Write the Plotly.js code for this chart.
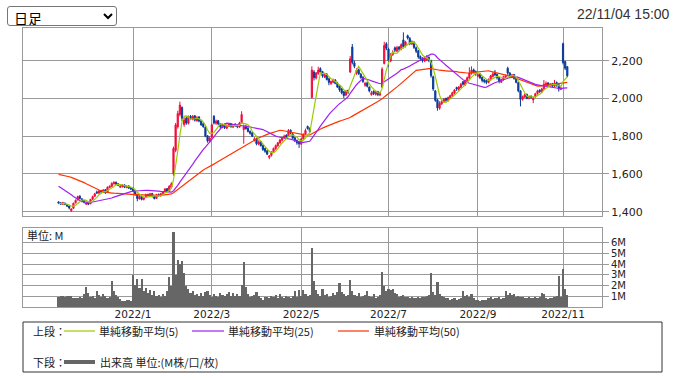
<!DOCTYPE html>
<html><head><meta charset="utf-8">
<script src="https://cdn.plot.ly/plotly-3.0.1.min.js"></script>
<style>
html,body{margin:0;padding:0;background:#fff;}
#wrap{position:relative;width:677px;height:378px;overflow:hidden;}
#chart{position:absolute;left:0;top:0;width:677px;height:378px;}
#period{position:absolute;left:7px;top:6px;width:110px;height:20px;font-size:14px;font-family:'Noto Sans CJK JP',sans-serif;color:#000;background:#fff;border:1px solid #767676;border-radius:3px;padding:0 2px;box-sizing:border-box;}
</style></head>
<body><div id="wrap"><div id="chart"></div><select id="period"><option>日足</option><option>週足</option><option>月足</option></select></div>
<script>
// ---------------- data ----------------
const firstDay = '2021-11-11';
const holidays = ['2021-11-23','2021-12-31','2022-01-03','2022-01-10','2022-02-11','2022-02-23','2022-03-21','2022-04-29','2022-05-03','2022-05-04','2022-05-05','2022-07-18','2022-08-11','2022-09-19','2022-09-23','2022-10-10','2022-11-03'];
const tickMonths = ['2022-01','2022-03','2022-05','2022-07','2022-09','2022-11'];
const tickLabels = ['2022/1','2022/3','2022/5','2022/7','2022/9','2022/11'];
const priceTicks = [1400,1600,1800,2000,2200];
const volTicks = [1,2,3,4,5,6];
const volTickLabels = ['1M','2M','3M','4M','5M','6M'];
const stamp = '22/11/04 15:00';

const openP = [
1452,1447,1440,1446,1437,1430,1405,1418,1447,1462,
1482,1468,1458,1440,1450,1442,1466,1482,1505,1498,
1512,1503,1516,1502,1528,1534,1548,1556,1548,1530,
1533,1542,1528,1536,1527,1525,1512,1492,1468,1482,
1465,1476,1492,1484,1496,1482,1470,1492,1484,1494,
1506,1522,1508,1530,1600,1725,1850,1915,1952,1862,
1895,1868,1906,1890,1908,1882,1902,1882,1866,1848,
1802,1772,1795,1905,1868,1882,1866,1846,1862,1842,
1852,1866,1848,1864,1858,1848,1868,1835,1852,1842,
1826,1818,1778,1788,1758,1772,1752,1735,1722,1688,
1698,1714,1734,1748,1764,1778,1792,1805,1798,1832,
1812,1792,1778,1768,1758,1786,1812,1852,1842,2005,
2140,2108,2132,2158,2142,2112,2128,2104,2078,2086,
2098,2082,2066,2050,2035,2018,2042,2140,2272,2188,
2135,2152,2128,2112,2070,2082,2060,2020,2038,2022,
2036,2018,2060,2185,2290,2262,2198,2232,2268,2250,
2272,2262,2310,2278,2332,2318,2288,2298,2268,2252,
2222,2212,2198,2205,2218,2198,2115,2040,1992,1948,
1972,1984,2000,1988,2002,2014,2028,2058,2046,2058,
2088,2072,2094,2108,2132,2152,2142,2118,2128,2112,
2098,2094,2084,2098,2116,2140,2128,2110,2086,2098,
2112,2160,2134,2112,2126,2106,2084,2040,1996,2008,
2022,2000,2012,1992,2008,2026,2044,2036,2050,2070,
2082,2068,2078,2064,2084,2072,2048,2290,2195,2168];

const highP = [
1456,1450,1452,1448,1440,1432,1418,1448,1465,1485,
1488,1472,1462,1452,1452,1468,1485,1500,1512,1515,
1516,1520,1520,1534,1540,1556,1562,1560,1552,1540,
1546,1545,1540,1540,1530,1528,1515,1495,1488,1486,
1480,1496,1495,1500,1500,1485,1495,1496,1500,1510,
1525,1526,1540,1556,1745,1870,1935,1983,1958,1900,
1905,1910,1912,1912,1912,1906,1906,1888,1870,1852,
1805,1800,1868,1912,1888,1886,1870,1866,1866,1862,
1870,1870,1865,1868,1862,1876,1932,1862,1860,1848,
1830,1822,1795,1792,1778,1775,1755,1740,1728,1700,
1720,1740,1756,1770,1786,1796,1808,1810,1838,1836,
1816,1798,1782,1772,1790,1815,1840,1856,1846,2170,
2150,2140,2168,2165,2146,2132,2135,2110,2095,2105,
2102,2088,2070,2055,2040,2045,2046,2225,2288,2200,
2160,2158,2135,2118,2088,2090,2064,2040,2042,2042,
2040,2036,2165,2300,2298,2268,2240,2255,2275,2278,
2278,2292,2350,2305,2338,2325,2308,2302,2275,2256,
2228,2218,2225,2230,2222,2205,2120,2045,1998,1985,
1995,2002,2004,2010,2020,2036,2050,2062,2066,2082,
2092,2100,2116,2165,2170,2158,2148,2132,2134,2115,
2102,2100,2106,2125,2138,2150,2132,2115,2105,2120,
2126,2168,2140,2130,2130,2110,2088,2045,2015,2026,
2025,2016,2016,2008,2030,2046,2048,2056,2098,2090,
2086,2082,2082,2098,2090,2078,2062,2295,2200,2172];

const lowP = [
1440,1436,1436,1435,1425,1412,1400,1415,1444,1460,
1465,1450,1444,1436,1435,1440,1462,1478,1494,1495,
1500,1500,1495,1500,1525,1530,1544,1540,1535,1526,
1528,1525,1524,1520,1515,1505,1485,1455,1465,1460,
1460,1472,1480,1480,1476,1465,1468,1480,1480,1490,
1502,1505,1505,1525,1590,1715,1840,1905,1880,1850,
1860,1862,1885,1884,1878,1876,1874,1855,1845,1795,
1766,1765,1790,1862,1860,1858,1840,1842,1838,1838,
1848,1845,1844,1850,1842,1845,1865,1760,1835,1820,
1808,1795,1772,1752,1752,1745,1722,1712,1700,1678,
1692,1710,1728,1745,1760,1772,1788,1790,1795,1810,
1786,1770,1755,1738,1755,1782,1808,1835,1818,2000,
2095,2100,2125,2135,2110,2108,2095,2070,2072,2080,
2075,2055,2035,2022,2002,2012,2025,2135,2180,2160,
2125,2125,2105,2082,2062,2058,2032,2015,2018,2015,
2012,2012,2055,2180,2255,2168,2192,2225,2245,2245,
2250,2255,2265,2270,2312,2282,2282,2262,2240,2210,
2200,2190,2192,2198,2192,2110,2040,1982,1935,1940,
1965,1978,1982,1984,1998,2008,2022,2040,2040,2055,
2068,2068,2088,2104,2126,2132,2120,2112,2102,2085,
2080,2075,2080,2095,2112,2118,2100,2080,2082,2095,
2108,2125,2110,2108,2100,2080,2032,1958,1988,2002,
1995,1995,1998,1975,2004,2020,2030,2030,2046,2062,
2064,2062,2058,2060,2062,2036,2044,2180,2150,2112];

const closeP = [
1445,1440,1448,1438,1430,1420,1415,1445,1460,1480,
1470,1455,1450,1445,1440,1465,1480,1495,1500,1510,
1505,1515,1500,1530,1535,1550,1555,1545,1540,1535,
1540,1530,1535,1525,1520,1510,1490,1470,1480,1465,
1475,1490,1485,1495,1480,1470,1490,1485,1495,1505,
1520,1510,1535,1548,1735,1860,1920,1965,1895,1885,
1870,1900,1895,1905,1885,1900,1880,1860,1850,1800,
1775,1790,1860,1870,1880,1865,1850,1860,1845,1855,
1865,1850,1860,1855,1850,1870,1915,1850,1840,1825,
1815,1800,1785,1760,1770,1750,1730,1720,1705,1695,
1715,1735,1750,1765,1780,1790,1800,1795,1830,1815,
1790,1775,1765,1760,1785,1810,1830,1840,1825,2150,
2110,2135,2150,2140,2120,2125,2100,2085,2090,2095,
2080,2060,2045,2030,2015,2040,2030,2210,2190,2170,
2150,2130,2110,2090,2080,2065,2040,2030,2025,2035,
2020,2030,2155,2280,2265,2200,2230,2245,2255,2270,
2260,2285,2275,2300,2320,2290,2300,2270,2250,2220,
2210,2200,2215,2215,2200,2120,2050,1990,1950,1975,
1985,1995,1990,2005,2015,2030,2045,2050,2060,2075,
2075,2095,2110,2135,2150,2140,2130,2125,2110,2095,
2090,2085,2100,2120,2130,2125,2110,2090,2100,2115,
2120,2135,2115,2125,2105,2085,2040,1995,2010,2020,
2000,2010,2005,2000,2025,2040,2035,2050,2075,2080,
2070,2075,2065,2080,2070,2050,2055,2190,2160,2120];

// volume in millions of shares
const volumeM = [
0.95,1.0,1.0,0.9,1.0,1.05,1.0,0.85,0.8,0.85,
0.9,0.85,1.2,1.9,1.3,0.9,1.0,0.85,1.5,1.1,
0.9,1.2,1.0,0.85,0.9,2.4,1.5,1.1,0.9,0.75,
0.6,0.55,0.65,0.7,0.6,3.0,2.1,2.6,1.8,2.6,
1.5,1.8,1.3,1.6,1.1,1.5,1.0,1.1,0.9,1.2,
1.0,1.5,2.8,2.0,7.0,3.0,4.4,4.0,4.3,3.2,
2.0,1.7,1.3,1.5,1.1,1.2,1.0,1.3,1.0,1.4,
1.5,1.1,0.9,1.2,1.0,0.9,1.3,1.1,1.0,1.2,
1.4,1.0,1.3,1.0,1.2,1.0,2.1,4.2,1.9,1.2,
0.9,1.0,1.1,1.4,1.0,0.85,0.7,0.9,0.95,0.8,
1.0,0.9,1.1,0.8,1.2,0.9,0.8,1.0,0.9,0.8,
1.0,1.5,0.9,1.6,1.0,1.6,1.2,1.0,1.1,5.5,
2.4,1.6,1.2,1.0,1.7,1.1,1.2,0.9,1.0,1.3,
1.1,1.4,2.2,1.4,1.2,1.0,1.1,2.5,1.5,1.1,
1.0,1.3,0.9,1.0,1.1,1.5,1.0,0.9,1.2,0.85,
0.9,1.1,3.3,2.0,1.5,1.7,1.6,1.7,1.3,1.2,
0.95,1.0,1.1,0.9,0.95,0.85,0.9,0.8,0.85,0.9,
0.85,0.9,0.95,1.0,1.1,3.2,1.4,1.1,2.3,1.2,
1.0,0.9,0.85,0.8,0.7,0.75,0.8,0.7,0.75,0.8,
1.5,1.0,1.1,0.9,1.2,0.8,0.65,0.7,0.6,0.7,
0.65,0.7,0.8,0.9,0.75,0.85,0.8,0.9,0.75,0.8,
1.5,1.1,1.3,1.1,1.2,0.9,1.0,0.95,0.9,0.85,
0.8,0.9,0.85,0.8,0.9,0.85,0.9,1.3,1.2,0.8,
0.75,0.8,0.85,0.9,1.0,2.9,0.9,3.6,1.7,1.1];

// moving-average values before enough history is on the chart
const ma25Head = [1535,1528,1521,1514,1506,1498,1490,1481,1472,1465,1459,1454,1451,1449,1448,1449,1451,1453,1456,1459,1461,1463,1465,1467];
const ma50Head = [
1598,1596,1594,1591,1588,1585,1582,1578,1574,1569,
1564,1559,1554,1548,1542,1536,1530,1524,1519,1514,
1510,1507,1504,1502,1500,1499,1498,1497,1496,1495,
1494,1494,1493,1493,1492,1492,1491,1491,1490,1490,
1489,1489,1488,1488,1488,1487,1487,1487,1487];

// ---------------- derived ----------------
function tradingDays(start, n) {
  const out = [];
  const d = new Date(start + 'T00:00:00Z');
  while (out.length < n) {
    const dow = d.getUTCDay();
    const s = d.toISOString().slice(0, 10);
    if (dow !== 0 && dow !== 6 && holidays.indexOf(s) < 0) out.push(s);
    d.setUTCDate(d.getUTCDate() + 1);
  }
  return out;
}
const dates = tradingDays(firstDay, closeP.length);
const xi = dates.map((_, i) => i);
const tickIdx = tickMonths.map(m => dates.findIndex(d => d.indexOf(m) === 0));
const avg = a => a.reduce((s, v) => s + v, 0) / a.length;
function sma(arr, n, head) {
  return arr.map((_, i) => {
    if (i < n - 1) return head ? head[i] : avg(arr.slice(0, i + 1));
    return avg(arr.slice(i - n + 1, i + 1));
  });
}
const ma5 = sma(closeP, 5, null);
const ma25 = sma(closeP, 25, ma25Head);
const ma50 = sma(closeP, 50, ma50Head);

// ---------------- styling ----------------
const W = 677, H = 378;
const px = x => x / W, py = y => 1 - y / H;
const RED = '#f50c3c', BLUE = '#0a3a9a';
const C5 = '#99cc00', C25 = '#a020f0', C50 = '#ff3300';
const GRID = '#9a9a9a';
const tickFont = {family: 'DejaVu Sans, sans-serif', size: 11, color: '#222'};
const xTickFont = {family: 'DejaVu Sans, sans-serif', size: 10.5, color: '#222'};
const volTickFont = {family: 'DejaVu Sans, sans-serif', size: 10, color: '#222'};
const jpFont = {family: 'Noto Sans CJK JP, sans-serif', size: 11, color: '#222'};

const traces = [
  {type: 'candlestick', x: xi, open: openP, high: highP, low: lowP, close: closeP,
   text: dates, hoverinfo: 'none', xaxis: 'x', yaxis: 'y', whiskerwidth: 0,
   increasing: {line: {color: RED, width: 1}, fillcolor: RED},
   decreasing: {line: {color: BLUE, width: 1}, fillcolor: BLUE}},
  {type: 'scatter', mode: 'lines', x: xi, y: ma50, line: {color: C50, width: 1.2}, xaxis: 'x', yaxis: 'y', hoverinfo: 'none'},
  {type: 'scatter', mode: 'lines', x: xi, y: ma25, line: {color: C25, width: 1.2}, xaxis: 'x', yaxis: 'y', hoverinfo: 'none'},
  {type: 'scatter', mode: 'lines', x: xi, y: ma5, line: {color: C5, width: 1.2}, xaxis: 'x', yaxis: 'y', hoverinfo: 'none'},
  {type: 'bar', x: xi, y: volumeM, marker: {color: '#666666', line: {width: 0}}, xaxis: 'x2', yaxis: 'y2', hoverinfo: 'none'}
];

const xRange = [-16.7, 255.3];
const xDomain = [px(23), px(602)];
const commonX = {range: xRange, domain: xDomain, tickmode: 'array', tickvals: tickIdx, ticktext: tickLabels,
  showgrid: true, gridcolor: GRID, gridwidth: 1, zeroline: false, showline: true, mirror: true,
  linecolor: GRID, linewidth: 1, ticks: '', fixedrange: true};

const layout = {
  width: W, height: H, margin: {l: 0, r: 0, t: 0, b: 0},
  paper_bgcolor: '#fff', plot_bgcolor: '#fff', showlegend: false, hovermode: false,
  bargap: 0, boxgap: 0.2,
  xaxis: Object.assign({}, commonX, {anchor: 'y', showticklabels: false, rangeslider: {visible: false}}),
  xaxis2: Object.assign({}, commonX, {anchor: 'y2', matches: 'x', showticklabels: true, tickfont: xTickFont, ticklabelstandoff: -3}),
  yaxis: {domain: [py(215.5), py(28)], range: [1380, 2373], side: 'right', tickmode: 'array', tickvals: priceTicks,
    tickformat: ',d', tickfont: tickFont, ticks: 'outside', ticklen: 6, tickcolor: GRID,
    showgrid: true, gridcolor: GRID, gridwidth: 1, zeroline: false, showline: true, mirror: true, linecolor: GRID, anchor: 'x', fixedrange: true},
  yaxis2: {domain: [py(307), py(227.7)], range: [0, 7.42], side: 'right', tickmode: 'array', tickvals: volTicks,
    ticktext: volTickLabels, tickfont: volTickFont, ticks: 'outside', ticklen: 6, tickcolor: GRID,
    showgrid: true, gridcolor: GRID, gridwidth: 1, zeroline: false, showline: true, mirror: true, linecolor: GRID, anchor: 'x2', fixedrange: true},
  shapes: [
    {type: 'rect', xref: 'paper', yref: 'paper', x0: px(23), x1: px(662), y0: py(372), y1: py(322), line: {color: '#333', width: 1}, fillcolor: 'rgba(0,0,0,0)'},
    {type: 'line', xref: 'paper', yref: 'paper', x0: px(64), x1: px(95), y0: py(331), y1: py(331), line: {color: C5, width: 1.2}},
    {type: 'line', xref: 'paper', yref: 'paper', x0: px(192), x1: px(224), y0: py(331), y1: py(331), line: {color: C25, width: 1.2}},
    {type: 'line', xref: 'paper', yref: 'paper', x0: px(338), x1: px(369), y0: py(331), y1: py(331), line: {color: C50, width: 1.2}},
    {type: 'line', xref: 'paper', yref: 'paper', x0: px(64), x1: px(95), y0: py(362), y1: py(362), line: {color: '#666', width: 4}}
  ],
  annotations: [
    {text: '単位: M', xref: 'paper', yref: 'paper', x: px(25), y: py(235), xanchor: 'left', yanchor: 'middle', showarrow: false, font: jpFont},
    {text: stamp, xref: 'paper', yref: 'paper', x: px(672), y: py(14), xanchor: 'right', yanchor: 'middle', showarrow: false,
     font: {family: 'Liberation Sans, Arial, sans-serif', size: 14, color: '#333'}},
    {text: '上段：', xref: 'paper', yref: 'paper', x: px(31), y: py(331), xanchor: 'left', yanchor: 'middle', showarrow: false, font: jpFont},
    {text: '単純移動平均(5)', xref: 'paper', yref: 'paper', x: px(97), y: py(331), xanchor: 'left', yanchor: 'middle', showarrow: false, font: jpFont},
    {text: '単純移動平均(25)', xref: 'paper', yref: 'paper', x: px(226), y: py(331), xanchor: 'left', yanchor: 'middle', showarrow: false, font: jpFont},
    {text: '単純移動平均(50)', xref: 'paper', yref: 'paper', x: px(372), y: py(331), xanchor: 'left', yanchor: 'middle', showarrow: false, font: jpFont},
    {text: '下段：', xref: 'paper', yref: 'paper', x: px(31), y: py(362), xanchor: 'left', yanchor: 'middle', showarrow: false, font: jpFont},
    {text: '出来高 単位:(M株/口/枚)', xref: 'paper', yref: 'paper', x: px(98), y: py(362), xanchor: 'left', yanchor: 'middle', showarrow: false, font: jpFont}
  ]
};

Plotly.newPlot('chart', traces, layout, {displayModeBar: false, staticPlot: true});
</script></body></html>
